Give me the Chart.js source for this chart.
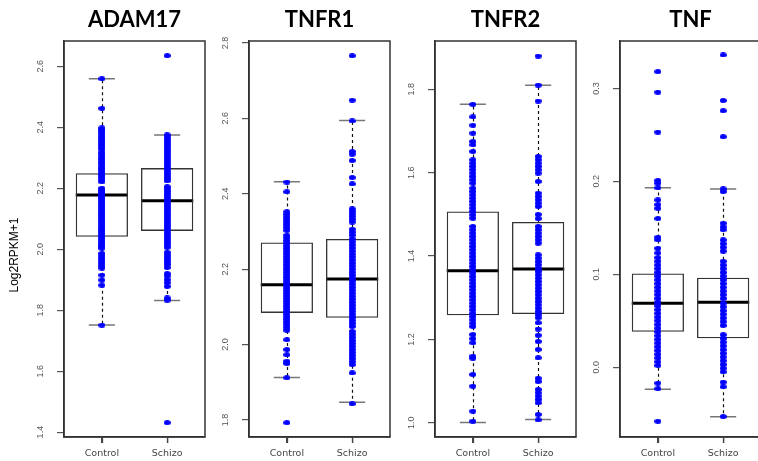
<!DOCTYPE html>
<html>
<head>
<meta charset="utf-8">
<script src="https://cdn.jsdelivr.net/npm/chart.js@4.4.1/dist/chart.umd.min.js"></script>
<style>
html,body{margin:0;padding:0;background:#fff;overflow:hidden;width:758px;height:461px;}
canvas{position:absolute;top:0;}
</style>
</head>
<body>
<script>
// ---------- data ----------
const panelTitles = ['ADAM17', 'TNFR1', 'TNFR2', 'TNF'];
const categories = ['Control', 'Schizo'];
const yAxisTitle = 'Log2RPKM+1';

// y tick labels per panel
const adam17Ticks = ['1.4', '1.6', '1.8', '2.0', '2.2', '2.4', '2.6'];
const tnfr1Ticks = ['1.8', '2.0', '2.2', '2.4', '2.6', '2.8'];
const tnfr2Ticks = ['1.0', '1.2', '1.4', '1.6', '1.8'];
const tnfTicks = ['0.0', '0.1', '0.2', '0.3'];

// y ranges per panel
const adam17Range = [1.384, 2.683];
const tnfr1Range = [1.755, 2.805];
const tnfr2Range = [0.966, 1.916];
const tnfRange = [-0.075, 0.351];

// box statistics [lower whisker, Q1, median, Q3, upper whisker] for Control, Schizo
const adam17Stats = [[1.751, 2.041, 2.178, 2.249, 2.559], [1.832, 2.060, 2.159, 2.266, 2.375]];
const tnfr1Stats = [[1.913, 2.084, 2.159, 2.271, 2.432], [1.847, 2.071, 2.174, 2.280, 2.594]];
const tnfr2Stats = [[1.001, 1.258, 1.365, 1.507, 1.764], [1.008, 1.261, 1.369, 1.482, 1.810]];
const tnfStats = [[-0.0237, 0.0383, 0.0688, 0.101, 0.193], [-0.0531, 0.0312, 0.0699, 0.0964, 0.1917]];

// individual samples
const adam17Control = [2.559, 2.462, 2.398, 2.392, 2.385, 2.378, 2.370, 2.362, 2.355, 2.348, 2.342, 2.335, 2.328, 2.318, 2.310, 2.302, 2.295, 2.287, 2.280, 2.272, 2.265, 2.258, 2.250, 2.243, 2.236, 2.228, 2.221, 2.200, 2.194, 2.188, 2.182, 2.176, 2.170, 2.163, 2.156, 2.149, 2.142, 2.135, 2.128, 2.121, 2.114, 2.107, 2.100, 2.093, 2.086, 2.079, 2.072, 2.065, 2.058, 2.051, 2.044, 2.037, 2.030, 2.023, 2.016, 2.009, 2.003, 1.986, 1.978, 1.970, 1.962, 1.954, 1.946, 1.938, 1.915, 1.899, 1.882, 1.751];
const adam17Schizo = [2.635, 2.375, 2.368, 2.360, 2.352, 2.344, 2.336, 2.328, 2.320, 2.312, 2.304, 2.296, 2.288, 2.280, 2.272, 2.264, 2.256, 2.248, 2.240, 2.232, 2.224, 2.205, 2.198, 2.190, 2.182, 2.174, 2.166, 2.158, 2.150, 2.142, 2.134, 2.126, 2.118, 2.110, 2.102, 2.094, 2.086, 2.078, 2.070, 2.062, 2.054, 2.046, 2.038, 2.030, 2.022, 2.014, 2.006, 1.990, 1.982, 1.974, 1.966, 1.958, 1.950, 1.940, 1.920, 1.912, 1.900, 1.890, 1.878, 1.840, 1.833, 1.431];
const tnfr1Control = [2.431, 2.405, 2.352, 2.345, 2.338, 2.331, 2.324, 2.317, 2.310, 2.303, 2.290, 2.283, 2.276, 2.269, 2.262, 2.255, 2.248, 2.241, 2.234, 2.227, 2.220, 2.213, 2.206, 2.199, 2.192, 2.185, 2.178, 2.171, 2.164, 2.157, 2.150, 2.143, 2.136, 2.129, 2.122, 2.115, 2.108, 2.101, 2.094, 2.087, 2.080, 2.073, 2.066, 2.059, 2.052, 2.045, 2.038, 2.013, 1.987, 1.973, 1.956, 1.950, 1.912, 1.793];
const tnfr1Schizo = [2.766, 2.648, 2.593, 2.512, 2.505, 2.488, 2.443, 2.426, 2.360, 2.353, 2.346, 2.339, 2.332, 2.325, 2.306, 2.298, 2.290, 2.280, 2.272, 2.264, 2.256, 2.248, 2.240, 2.232, 2.224, 2.216, 2.208, 2.200, 2.192, 2.184, 2.176, 2.168, 2.160, 2.152, 2.144, 2.136, 2.128, 2.120, 2.112, 2.104, 2.096, 2.088, 2.080, 2.072, 2.064, 2.056, 2.048, 2.035, 2.027, 2.019, 2.011, 2.003, 1.995, 1.987, 1.979, 1.971, 1.963, 1.955, 1.947, 1.925, 1.843];
const tnfr2Control = [1.764, 1.734, 1.714, 1.695, 1.675, 1.667, 1.651, 1.631, 1.623, 1.615, 1.607, 1.599, 1.591, 1.583, 1.575, 1.563, 1.555, 1.547, 1.539, 1.531, 1.523, 1.515, 1.507, 1.499, 1.491, 1.471, 1.463, 1.455, 1.447, 1.439, 1.431, 1.423, 1.415, 1.407, 1.399, 1.391, 1.383, 1.375, 1.367, 1.359, 1.351, 1.343, 1.335, 1.327, 1.319, 1.311, 1.303, 1.295, 1.287, 1.279, 1.271, 1.263, 1.255, 1.247, 1.239, 1.231, 1.212, 1.202, 1.192, 1.160, 1.155, 1.116, 1.088, 1.028, 1.004];
const tnfr2Schizo = [1.880, 1.810, 1.772, 1.639, 1.631, 1.623, 1.615, 1.607, 1.599, 1.579, 1.551, 1.543, 1.535, 1.527, 1.519, 1.500, 1.490, 1.471, 1.463, 1.455, 1.447, 1.439, 1.431, 1.403, 1.395, 1.387, 1.379, 1.371, 1.363, 1.355, 1.347, 1.339, 1.331, 1.323, 1.315, 1.307, 1.299, 1.291, 1.283, 1.275, 1.267, 1.259, 1.252, 1.240, 1.225, 1.210, 1.195, 1.176, 1.156, 1.107, 1.099, 1.080, 1.072, 1.064, 1.056, 1.048, 1.020, 1.007];
const tnfControl = [0.318, 0.296, 0.253, 0.201, 0.198, 0.193, 0.180, 0.175, 0.171, 0.160, 0.140, 0.137, 0.128, 0.123, 0.118, 0.114, 0.110, 0.106, 0.102, 0.098, 0.094, 0.090, 0.086, 0.082, 0.078, 0.074, 0.070, 0.066, 0.062, 0.058, 0.054, 0.050, 0.046, 0.042, 0.038, 0.034, 0.030, 0.026, 0.022, 0.018, 0.014, 0.010, 0.006, 0.002, -0.017, -0.023, -0.058];
const tnfSchizo = [0.336, 0.287, 0.276, 0.248, 0.192, 0.189, 0.155, 0.151, 0.148, 0.137, 0.133, 0.129, 0.125, 0.114, 0.110, 0.106, 0.102, 0.098, 0.094, 0.090, 0.086, 0.082, 0.078, 0.074, 0.069, 0.065, 0.061, 0.057, 0.053, 0.049, 0.045, 0.035, 0.031, 0.027, 0.023, 0.019, 0.015, 0.011, 0.007, 0.003, -0.001, -0.005, -0.016, -0.021, -0.053];

// ---------- assembly ----------
const panels = [
  {title: panelTitles[0], ticks: adam17Ticks, range: adam17Range, stats: adam17Stats, groups: [adam17Control, adam17Schizo], yTitle: true},
  {title: panelTitles[1], ticks: tnfr1Ticks, range: tnfr1Range, stats: tnfr1Stats, groups: [tnfr1Control, tnfr1Schizo]},
  {title: panelTitles[2], ticks: tnfr2Ticks, range: tnfr2Range, stats: tnfr2Stats, groups: [tnfr2Control, tnfr2Schizo]},
  {title: panelTitles[3], ticks: tnfTicks, range: tnfRange, stats: tnfStats, groups: [tnfControl, tnfSchizo]}
];

const frameLefts = [64, 249, 435, 620];
const frameWidth = 141;
const axisW = 60;
const rightPad = 4;

// elliptical dot marker
const dot = document.createElement('canvas');
dot.width = 7; dot.height = 5;
(function () {
  const c = dot.getContext('2d');
  c.fillStyle = '#0000ff';
  c.beginPath();
  c.ellipse(3.5, 2.5, 3.5, 2.5, 0, 0, Math.PI * 2);
  c.fill();
})();

const boxPlugin = {
  id: 'boxParts',
  beforeDatasetsDraw(chart) {
    const p = chart.options.plugins.boxParts;
    const xs = chart.scales.x, ys = chart.scales.y;
    const ctx = chart.ctx;
    ctx.save();
    p.stats.forEach((s, i) => {
      const cx = Math.round(xs.getPixelForValue(i + 1)) + 0.5;
      const [lo, q1, med, q3, hi] = s.map(v => ys.getPixelForValue(v));
      ctx.strokeStyle = '#111';
      ctx.lineWidth = 1.2;
      ctx.setLineDash([3, 3]);
      ctx.beginPath();
      ctx.moveTo(cx, q3); ctx.lineTo(cx, hi);
      ctx.moveTo(cx, q1); ctx.lineTo(cx, lo);
      ctx.stroke();
      ctx.setLineDash([]);
      const cl = xs.getPixelForValue(i + 1 - 0.2), cr = xs.getPixelForValue(i + 1 + 0.2);
      ctx.strokeStyle = '#777';
      ctx.lineWidth = 1.5;
      ctx.beginPath();
      ctx.moveTo(cl, hi); ctx.lineTo(cr, hi);
      ctx.moveTo(cl, lo); ctx.lineTo(cr, lo);
      ctx.stroke();
      const ml = xs.getPixelForValue(i + 1 - 0.4), mr = xs.getPixelForValue(i + 1 + 0.4);
      ctx.strokeStyle = '#000';
      ctx.lineWidth = 3;
      ctx.beginPath();
      ctx.moveTo(ml, med); ctx.lineTo(mr, med);
      ctx.stroke();
    });
    ctx.restore();
  },
  afterDraw(chart) {
    const p = chart.options.plugins.boxParts;
    const xs = chart.scales.x, ys = chart.scales.y;
    const a = chart.chartArea;
    const ctx = chart.ctx;
    ctx.save();
    ctx.strokeStyle = '#333';
    ctx.lineWidth = 1.5;
    ctx.strokeRect(a.left, a.top, a.right - a.left, a.bottom - a.top);
    // category tick marks
    ctx.strokeStyle = '#444';
    ctx.lineWidth = 1.3;
    ctx.beginPath();
    categories.forEach((c, i) => {
      const x = Math.round(xs.getPixelForValue(i + 1)) + 0.5;
      ctx.moveTo(x, a.bottom); ctx.lineTo(x, a.bottom + 6);
    });
    ctx.stroke();
    ctx.fillStyle = '#555';
    ctx.font = '9px "Liberation Sans", Arial, sans-serif';
    ctx.textAlign = 'center';
    ctx.textBaseline = 'middle';
    p.ticks.forEach(t => {
      const y = ys.getPixelForValue(parseFloat(t));
      ctx.save();
      ctx.translate(a.left - 23, y);
      ctx.rotate(-Math.PI / 2);
      ctx.fillText(t, 0, 0);
      ctx.restore();
    });
    if (p.yTitle) {
      ctx.fillStyle = '#000';
      ctx.font = '12px "Liberation Sans", Arial, sans-serif';
      ctx.save();
      ctx.translate(a.left - 49, 255);
      ctx.rotate(-Math.PI / 2);
      ctx.fillText(yAxisTitle, 0, 0);
      ctx.restore();
    }
    ctx.restore();
  }
};

panels.forEach((p, k) => {
  const cv = document.createElement('canvas');
  const w = axisW + frameWidth + rightPad;
  cv.width = w; cv.height = 461;
  cv.style.left = (frameLefts[k] - axisW) + 'px';
  cv.style.width = w + 'px'; cv.style.height = '461px';
  document.body.appendChild(cv);

  const scatterSets = p.groups.map((g, i) => ({
    type: 'scatter',
    order: 0,
    data: g.map(v => ({x: i + 1, y: v})),
    pointStyle: dot,
    pointRadius: 3,
    pointHoverRadius: 3,
    pointBackgroundColor: '#0000ff',
    pointBorderWidth: 0
  }));
  const boxSet = {
    type: 'bar',
    order: 5,
    data: p.stats.map((s, i) => ({x: i + 1, y: [s[1], s[3]]})),
    backgroundColor: 'rgba(0,0,0,0)',
    borderColor: '#333',
    borderWidth: 1.3,
    borderSkipped: false,
    categoryPercentage: 1,
    barPercentage: 0.8
  };

  new Chart(cv, {
    type: 'scatter',
    data: {datasets: [...scatterSets, boxSet]},
    plugins: [boxPlugin],
    options: {
      responsive: false,
      animation: false,
      events: [],
      devicePixelRatio: 1,
      layout: {padding: {left: 0, right: rightPad, top: 0, bottom: 0}},
      plugins: {
        legend: {display: false},
        tooltip: {enabled: false},
        title: {
          display: true,
          text: p.title,
          fullSize: false,
          color: '#000',
          font: {family: 'Lato', size: 22, weight: 'bold'},
          padding: {top: 7, bottom: 7.6}
        },
        boxParts: {stats: p.stats, ticks: p.ticks, yTitle: !!p.yTitle}
      },
      scales: {
        x: {
          type: 'linear',
          min: 0.42, max: 2.58,
          offset: false,
          afterBuildTicks: s => { s.ticks = categories.map((c, i) => ({value: i + 1})); },
          afterFit: s => { s.height = 24; },
          grid: {display: true, offset: false, drawOnChartArea: false, drawTicks: true, tickLength: 6, color: '#444', lineWidth: 1.2},
          border: {display: true, color: '#333', width: 1.5},
          ticks: {
            color: '#444',
            font: {family: 'DejaVu Sans', size: 9.5},
            padding: 5,
            autoSkip: false,
            maxRotation: 0,
            callback: v => categories[Math.round(v) - 1]
          }
        },
        y: {
          type: 'linear',
          min: p.range[0], max: p.range[1],
          afterBuildTicks: s => { s.ticks = p.ticks.map(t => ({value: parseFloat(t)})); },
          afterFit: s => { s.width = axisW; },
          grid: {display: true, offset: false, drawOnChartArea: false, drawTicks: true, tickLength: 7, color: '#555', lineWidth: 1.2},
          border: {display: true, color: '#333', width: 1.5},
          ticks: {display: false}
        }
      }
    }
  });
});
</script>
</body>
</html>
